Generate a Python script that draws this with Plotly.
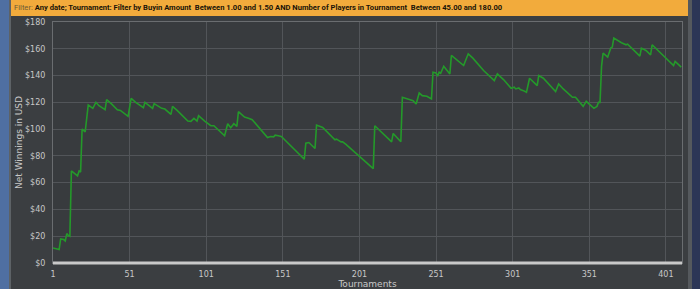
import plotly.graph_objects as go

# Tournament number (x) and cumulative net winnings in USD (y)
tournaments = [1, 3, 5, 6, 8, 9, 10, 11, 12, 13, 15, 17, 18, 19, 20, 21, 22, 24, 26, 27,
               29, 31, 35, 36, 39, 43, 45, 50, 52, 55, 60, 61, 66, 67, 72, 74, 78, 79, 82, 89,
               91, 93, 95, 96, 100, 104, 106, 113, 115, 117, 119, 121, 122, 126, 129, 131, 141, 143, 145, 146,
               148, 150, 165, 166, 168, 172, 173, 175, 177, 185, 186, 189, 190, 192, 210, 211, 222, 223, 228, 229,
               233, 236, 238, 240, 242, 245, 248, 249, 251, 252, 253, 254, 256, 260, 261, 265, 269, 270, 272, 275,
               282, 289, 291, 295, 300, 302, 303, 305, 306, 308, 310, 312, 315, 317, 318, 321, 329, 331, 334, 340,
               342, 347, 349, 354, 356, 357, 358, 359, 360, 363, 365, 366, 367, 370, 372, 375, 376, 384, 385, 388,
               391, 392, 396, 406, 407, 411]
winnings = [11.25, 10.5, 10, 18, 17.5, 16.5, 22, 20.5, 20, 68.75, 67, 65, 68.75, 68, 100, 99, 98, 118, 116, 115.5,
            120, 117.5, 114.5, 122, 119, 114.5, 114, 109.5, 123, 120, 116, 120, 115.5, 119, 115.5, 115, 111, 117, 114, 106,
            105.75, 108, 106, 110, 106, 102.5, 102.5, 95, 104, 101, 104, 102, 113, 109, 108, 107, 93.75, 94.5, 94.25, 95.5,
            95, 94.5, 77.5, 89.5, 90, 85.5, 103, 102, 101.25, 92, 92.5, 90.5, 90.5, 88.75, 70.5, 102.5, 90.5, 96.75, 90.5, 123.75,
            122, 121.25, 118.75, 127, 125, 124.5, 122.5, 142.5, 142, 139.5, 142.5, 141.75, 147, 141.25, 155, 151.25, 147.5, 150.5, 156.25, 153,
            143.75, 136.25, 141.25, 137, 130.5, 131.25, 130, 130.75, 129.5, 128.75, 127.5, 138, 135, 132.5, 140, 138, 128, 133.75, 130, 123.75,
            123.75, 117, 120.75, 115.5, 117, 120, 120, 147, 156.75, 153.75, 160.5, 161.25, 168, 165.5, 164.5, 163, 163.5, 154.5, 160.5, 158.75,
            155.5, 163, 158.75, 147.5, 150.5, 146.25]

x_ticks = [1, 51, 101, 151, 201, 251, 301, 351, 401]
y_ticks = [0, 20, 40, 60, 80, 100, 120, 140, 160, 180]
y_tick_labels = ["$" + str(v) for v in y_ticks]

filter_text = ("<span style='color:#6e5a36'>Filter:</span> "
               "<b>Any date; Tournament: Filter by Buyin Amount&nbsp; "
               "Between 1.00 and 1.50 AND Number of Players in Tournament&nbsp; Between 45.00 and 180.00</b>")

W, H = 700, 289
L, R, T, B = 53, 18, 22, 26
pw, ph = W - L - R, H - T - B

def px_x(px):
    return (px - L) / pw

def px_y(py):
    return (H - B - py) / ph

fig = go.Figure()
fig.add_trace(go.Scatter(x=tournaments, y=winnings, mode="lines",
                         line=dict(color="#24992a", width=1.6), hoverinfo="skip"))

shapes = [
    dict(type="rect", xref="paper", yref="paper", x0=px_x(0), x1=px_x(9), y0=px_y(H), y1=px_y(0),
         fillcolor="#4f6fa2", line=dict(width=0), layer="below"),
    dict(type="rect", xref="paper", yref="paper", x0=px_x(9), x1=px_x(11), y0=px_y(H), y1=px_y(0),
         fillcolor="#5d6266", line=dict(width=0), layer="below"),
    dict(type="rect", xref="paper", yref="paper", x0=px_x(688), x1=px_x(692), y0=px_y(H), y1=px_y(0),
         fillcolor="#55595d", line=dict(width=0), layer="below"),
    dict(type="rect", xref="paper", yref="paper", x0=px_x(692), x1=px_x(700), y0=px_y(H), y1=px_y(0),
         fillcolor="#2c3656", line=dict(width=0), layer="below"),
    dict(type="rect", xref="paper", yref="paper", x0=px_x(11), x1=px_x(688), y0=px_y(16), y1=px_y(0),
         fillcolor="#f2ab3c", line=dict(width=0), layer="below"),
    dict(type="line", xref="paper", yref="paper", x0=0, x1=1, y0=0, y1=0,
         line=dict(color="#c9c9c9", width=3)),
]

fig.update_layout(
    width=W, height=H,
    margin=dict(l=L, r=R, t=T, b=B, pad=0),
    paper_bgcolor="#3b3e41",
    plot_bgcolor="#383b3e",
    showlegend=False,
    shapes=shapes,
    annotations=[
        dict(text=filter_text, xref="paper", yref="paper", x=px_x(12), y=px_y(8),
             xanchor="left", yanchor="middle", showarrow=False,
             font=dict(family="Roboto", size=7.6, color="#1a1408")),
    ],
    xaxis=dict(range=[1, 411.5], tickvals=x_ticks, ticktext=[str(v) for v in x_ticks],
               automargin=False,
               showgrid=True, gridcolor="#525559", gridwidth=1, zeroline=False,
               showline=True, linecolor="#6a6d70", linewidth=1, mirror=True,
               ticks="", ticklabelstandoff=3,
               tickfont=dict(family="DejaVu Sans", size=8, color="#c8c8c8"),
               title=dict(text="Tournaments", standoff=3,
                          font=dict(family="DejaVu Sans", size=9, color="#c8c8c8"))),
    yaxis=dict(range=[0, 180], tickvals=y_ticks, ticktext=y_tick_labels,
               automargin=False,
               showgrid=True, gridcolor="#525559", gridwidth=1, zeroline=False,
               showline=True, linecolor="#6a6d70", linewidth=1, mirror=True,
               ticks="", ticklabelstandoff=5,
               tickfont=dict(family="DejaVu Sans", size=8, color="#c8c8c8"),
               title=dict(text="Net Winnings in USD", standoff=0,
                          font=dict(family="DejaVu Sans", size=9, color="#c8c8c8"))),
)

fig.write_html("out.html")
